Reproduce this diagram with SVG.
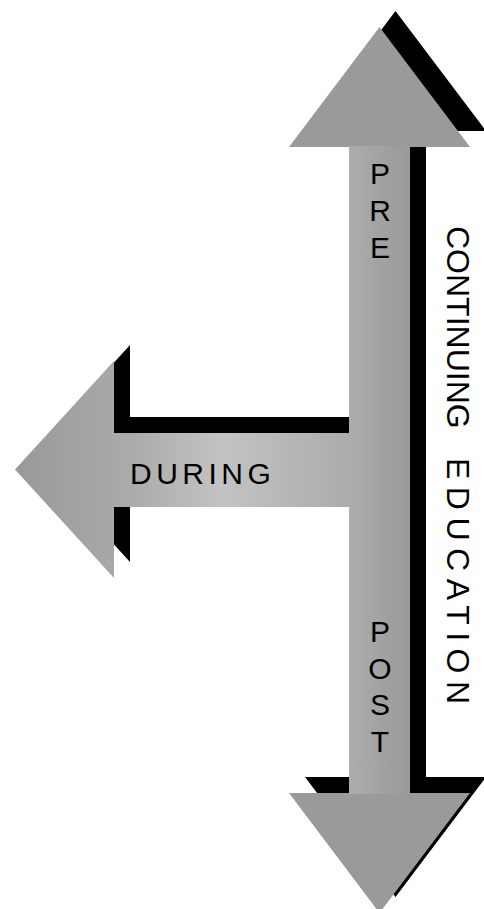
<svg xmlns="http://www.w3.org/2000/svg" width="484" height="909" viewBox="0 0 484 909">
  <style>
    .shadow { fill: #000; }
    .label { font-family: "Liberation Sans", Arial, sans-serif; fill: #000; }
    .stack { font-size: 30px; text-anchor: middle; }
    .side { font-size: 32px; }
  </style>
  <defs>
    <linearGradient id="gradLeft" gradientUnits="userSpaceOnUse" x1="15" y1="0" x2="349" y2="0">
      <stop offset="0" stop-color="#999999"/>
      <stop offset="0.35" stop-color="#ababab"/>
      <stop offset="0.62" stop-color="#c3c3c3"/>
      <stop offset="1" stop-color="#acacac"/>
    </linearGradient>
    <linearGradient id="gradShaft" gradientUnits="userSpaceOnUse" x1="349" y1="0" x2="410" y2="0">
      <stop offset="0" stop-color="#adadad"/>
      <stop offset="1" stop-color="#999999"/>
    </linearGradient>
  </defs>

  <!-- left-pointing branch arrow with drop shadow -->
  <g id="during-arrow">
    <path class="shadow" transform="translate(16,-16)" d="M15,469.5 L114,361 L114,433 L349,433 L349,507 L114,507 L114,578 Z"/>
    <path fill="url(#gradLeft)" d="M15,469.5 L114,361 L114,433 L349,433 L349,507 L114,507 L114,578 Z"/>
    <text class="label" x="130" y="484" font-size="30" letter-spacing="4.5">DURING</text>
  </g>

  <!-- vertical double-headed arrow with drop shadow -->
  <g id="main-arrow">
    <path class="shadow" transform="translate(16,-16)" d="M379.5,27 L470,147 L410,147 L410,793 L470,793 L379.5,913 L289,793 L349,793 L349,147 L289,147 Z"/>
    <path fill="#9a9a9a" d="M379.5,27 L470,147 L410,147 L410,793 L470,793 L379.5,913 L289,793 L349,793 L349,147 L289,147 Z"/>
    <rect x="349" y="146" width="61" height="648" fill="url(#gradShaft)"/>
  </g>

  <g id="pre-label">
    <text class="label stack" x="380" y="184">P</text>
    <text class="label stack" x="380" y="221">R</text>
    <text class="label stack" x="380" y="258">E</text>
  </g>

  <g id="post-label">
    <text class="label stack" x="380" y="642">P</text>
    <text class="label stack" x="380" y="678.5">O</text>
    <text class="label stack" x="380" y="715">S</text>
    <text class="label stack" x="380" y="751.5">T</text>
  </g>

  <!-- side caption, read top to bottom -->
  <g id="continuing-education">
    <text class="label side" transform="translate(447,226) rotate(90)">CONTINUING</text>
    <text class="label side" transform="translate(447,458) rotate(90)" letter-spacing="7.5">EDUCATION</text>
  </g>
</svg>
